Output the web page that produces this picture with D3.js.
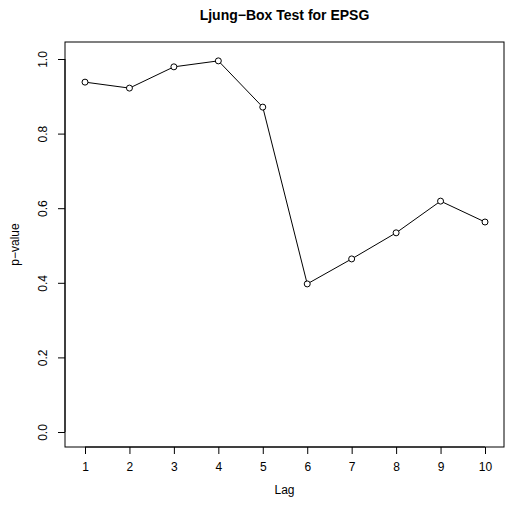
<html>
<head>
<script src="https://d3js.org/d3.v7.min.js"></script>
<style>body{margin:0} text{font-family:"Liberation Sans",Arial,sans-serif}</style>
</head>
<body></body>
<script>
// data
var lags = [1, 2, 3, 4, 5, 6, 7, 8, 9, 10];
var pvalues = [0.938, 0.922, 0.979, 0.995, 0.871, 0.397, 0.464, 0.534, 0.619, 0.563];
var yTicks = [0.0, 0.2, 0.4, 0.6, 0.8, 1.0];

var W = 515, H = 513;
var box = { left: 65, right: 504, top: 42, bottom: 447 };

var svg = d3.select("body").append("svg")
    .attr("width", W).attr("height", H);

var x = d3.scaleLinear().domain([1, 10]).range([85, 485]);
var y = d3.scaleLinear().domain([0, 1]).range([432, 59]);

// box
svg.append("rect")
    .attr("x", box.left).attr("y", box.top)
    .attr("width", box.right - box.left).attr("height", box.bottom - box.top)
    .attr("fill", "none").attr("stroke", "black");

// x axis
var xa = svg.append("g").attr("transform", "translate(0," + box.bottom + ")")
    .call(d3.axisBottom(x).tickValues(lags).tickSize(7).tickPadding(8).tickFormat(d3.format("d")));
xa.select(".domain").attr("d", "M" + x(1) + ",0H" + x(10));
xa.selectAll("text").style("font-size", "12px");

// y axis
var ya = svg.append("g").attr("transform", "translate(" + box.left + ",0)")
    .call(d3.axisLeft(y).tickValues(yTicks).tickSize(7).tickFormat(d3.format(".1f")));
ya.select(".domain").attr("d", "M0," + y(0) + "V" + y(1));
ya.selectAll("text")
    .style("font-size", "12px")
    .attr("text-anchor", "middle")
    .attr("transform", "translate(-22,0) rotate(-90)")
    .attr("x", 0).attr("y", 0).attr("dy", "0.35em");

// line and points
var line = d3.line().x(function (d, i) { return x(lags[i]); }).y(function (d) { return y(d); });
svg.append("path").datum(pvalues).attr("d", line)
    .attr("fill", "none").attr("stroke", "black");
svg.selectAll("circle.pt").data(pvalues).enter().append("circle")
    .attr("cx", function (d, i) { return x(lags[i]); })
    .attr("cy", function (d) { return y(d); })
    .attr("r", 3).attr("fill", "white").attr("stroke", "black");

// labels
svg.append("text").attr("x", (box.left + box.right) / 2).attr("y", 20)
    .attr("text-anchor", "middle").style("font-size", "14px").style("font-weight", "bold")
    .text("Ljung\u2212Box Test for EPSG");
svg.append("text").attr("x", (box.left + box.right) / 2).attr("y", 494)
    .attr("text-anchor", "middle").style("font-size", "12px").text("Lag");
svg.append("text").attr("transform", "translate(19," + (box.top + box.bottom) / 2 + ") rotate(-90)")
    .attr("text-anchor", "middle").style("font-size", "12px").text("p\u2212value");
</script>
</html>
